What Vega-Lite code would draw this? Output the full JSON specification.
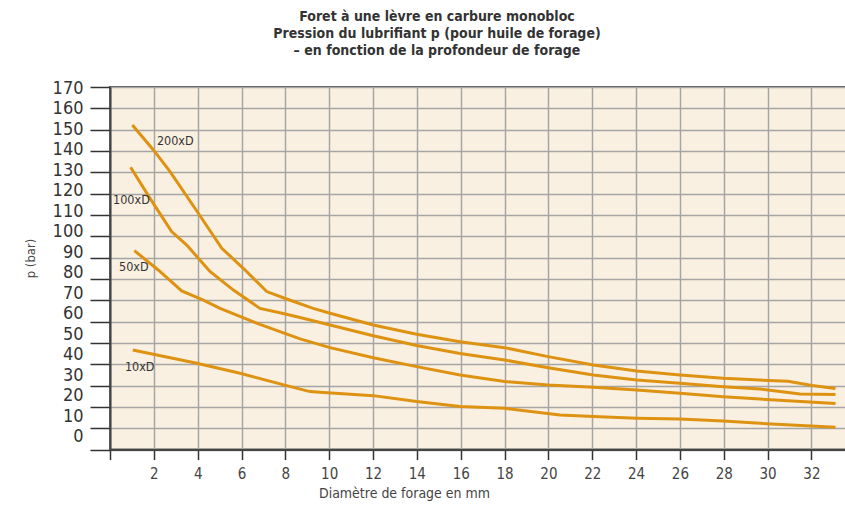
{
  "$schema": "https://vega.github.io/schema/vega-lite/v6.json",
  "width": 740,
  "height": 362.6,
  "padding": {"left": 24, "top": 10, "right": 0, "bottom": 0},
  "background": "#ffffff",
  "config": {
    "font": "Liberation Sans Narrow, DejaVu Sans Condensed, sans-serif",
    "view": {"fill": "#FAF0E1", "stroke": "#555555", "strokeWidth": 2}
  },
  "title": {
    "text": ["Foret à une lèvre en carbure monobloc", "Pression du lubrifiant p (pour huile de forage)", "– en fonction de la profondeur de forage"],
    "fontSize": 14,
    "fontWeight": "bold",
    "color": "#333333",
    "lineHeight": 17,
    "anchor": "middle",
    "dx": -43,
    "offset": 21
  },
  "datasets": {
    "curves": [
      {"serie": "200xD", "d": 1.02, "p": 152.2},
      {"serie": "200xD", "d": 1.98, "p": 140.5},
      {"serie": "200xD", "d": 2.74, "p": 130.3},
      {"serie": "200xD", "d": 4.03, "p": 110.8},
      {"serie": "200xD", "d": 5.10, "p": 94.4},
      {"serie": "200xD", "d": 6.08, "p": 85.0},
      {"serie": "200xD", "d": 7.15, "p": 74.1},
      {"serie": "200xD", "d": 8.06, "p": 70.6},
      {"serie": "200xD", "d": 9.27, "p": 66.2},
      {"serie": "200xD", "d": 10.04, "p": 63.9},
      {"serie": "200xD", "d": 12.01, "p": 58.4},
      {"serie": "200xD", "d": 13.99, "p": 54.1},
      {"serie": "200xD", "d": 15.97, "p": 50.6},
      {"serie": "200xD", "d": 18.0, "p": 47.8},
      {"serie": "200xD", "d": 19.99, "p": 43.6},
      {"serie": "200xD", "d": 22.05, "p": 39.7},
      {"serie": "200xD", "d": 24.03, "p": 36.8},
      {"serie": "200xD", "d": 26.0, "p": 35.0},
      {"serie": "200xD", "d": 27.98, "p": 33.4},
      {"serie": "200xD", "d": 29.65, "p": 32.6},
      {"serie": "200xD", "d": 30.93, "p": 32.0},
      {"serie": "200xD", "d": 32.03, "p": 30.1},
      {"serie": "200xD", "d": 33.1, "p": 28.6},
      {"serie": "100xD", "d": 0.94, "p": 132.4},
      {"serie": "100xD", "d": 1.82, "p": 117.9},
      {"serie": "100xD", "d": 2.81, "p": 102.2},
      {"serie": "100xD", "d": 3.50, "p": 95.9},
      {"serie": "100xD", "d": 4.56, "p": 83.5},
      {"serie": "100xD", "d": 5.63, "p": 74.8},
      {"serie": "100xD", "d": 6.84, "p": 66.2},
      {"serie": "100xD", "d": 7.85, "p": 63.9},
      {"serie": "100xD", "d": 8.67, "p": 61.9},
      {"serie": "100xD", "d": 10.04, "p": 58.4},
      {"serie": "100xD", "d": 12.01, "p": 53.4},
      {"serie": "100xD", "d": 13.99, "p": 48.8},
      {"serie": "100xD", "d": 15.97, "p": 45.1},
      {"serie": "100xD", "d": 18.0, "p": 42.0},
      {"serie": "100xD", "d": 19.99, "p": 38.4},
      {"serie": "100xD", "d": 22.05, "p": 35.0},
      {"serie": "100xD", "d": 24.03, "p": 32.6},
      {"serie": "100xD", "d": 26.0, "p": 31.1},
      {"serie": "100xD", "d": 27.98, "p": 29.5},
      {"serie": "100xD", "d": 29.65, "p": 28.4},
      {"serie": "100xD", "d": 31.48, "p": 26.1},
      {"serie": "100xD", "d": 33.1, "p": 25.8},
      {"serie": "50xD", "d": 1.11, "p": 93.3},
      {"serie": "50xD", "d": 2.20, "p": 84.2},
      {"serie": "50xD", "d": 3.27, "p": 74.4},
      {"serie": "50xD", "d": 4.26, "p": 70.1},
      {"serie": "50xD", "d": 5.02, "p": 66.2},
      {"serie": "50xD", "d": 6.84, "p": 58.7},
      {"serie": "50xD", "d": 8.67, "p": 51.9},
      {"serie": "50xD", "d": 10.04, "p": 47.8},
      {"serie": "50xD", "d": 12.01, "p": 43.1},
      {"serie": "50xD", "d": 13.99, "p": 38.9},
      {"serie": "50xD", "d": 15.97, "p": 35.0},
      {"serie": "50xD", "d": 18.0, "p": 31.9},
      {"serie": "50xD", "d": 19.99, "p": 30.3},
      {"serie": "50xD", "d": 22.05, "p": 29.2},
      {"serie": "50xD", "d": 24.03, "p": 27.9},
      {"serie": "50xD", "d": 26.0, "p": 26.4},
      {"serie": "50xD", "d": 27.98, "p": 24.8},
      {"serie": "50xD", "d": 29.65, "p": 23.7},
      {"serie": "50xD", "d": 33.1, "p": 21.6},
      {"serie": "10xD", "d": 1.04, "p": 46.7},
      {"serie": "10xD", "d": 3.96, "p": 40.5},
      {"serie": "10xD", "d": 5.93, "p": 35.8},
      {"serie": "10xD", "d": 8.06, "p": 30.0},
      {"serie": "10xD", "d": 9.12, "p": 27.2},
      {"serie": "10xD", "d": 9.58, "p": 26.9},
      {"serie": "10xD", "d": 12.01, "p": 25.3},
      {"serie": "10xD", "d": 13.99, "p": 22.5},
      {"serie": "10xD", "d": 15.97, "p": 20.2},
      {"serie": "10xD", "d": 18.0, "p": 19.4},
      {"serie": "10xD", "d": 20.53, "p": 16.2},
      {"serie": "10xD", "d": 22.05, "p": 15.5},
      {"serie": "10xD", "d": 24.03, "p": 14.7},
      {"serie": "10xD", "d": 26.0, "p": 14.3},
      {"serie": "10xD", "d": 27.98, "p": 13.4},
      {"serie": "10xD", "d": 29.65, "p": 12.3},
      {"serie": "10xD", "d": 33.1, "p": 10.5}
    ],
    "labels": [
      {"label": "200xD", "d": 2.14, "p": 144.5},
      {"label": "100xD", "d": 0.14, "p": 116.9},
      {"label": "50xD", "d": 0.41, "p": 85.5},
      {"label": "10xD", "d": 0.68, "p": 38.6}
    ]
  },
  "layer": [
    {
      "data": {"name": "curves"},
      "mark": {"type": "line", "color": "#DE9212", "strokeWidth": 3, "clip": true},
      "encoding": {
        "x": {
          "field": "d", "type": "quantitative",
          "scale": {"domain": [0, 33.76], "nice": false, "zero": false},
          "axis": {
            "values": [0, 2, 4, 6, 8, 10, 12, 14, 16, 18, 20, 22, 24, 26, 28, 30, 32],
            "labelExpr": "datum.value == 0 ? '' : datum.label",
            "grid": true, "gridColor": "#A5A5A5", "gridWidth": 1.5, "gridOpacity": 1,
            "tickSize": 10, "tickColor": "#333333", "tickWidth": 1.5,
            "domainColor": "#444444", "domainWidth": 2,
            "labelFontSize": 15, "labelColor": "#444444", "labelPadding": 7,
            "title": "Diamètre de forage en mm", "titleFontSize": 14, "titleFontWeight": "normal",
            "titleColor": "#444444", "titlePadding": 5, "titleX": 294
          }
        },
        "y": {
          "field": "p", "type": "quantitative",
          "scale": {"domain": [0, 170], "nice": false, "zero": false},
          "axis": {
            "values": [0, 10, 20, 30, 40, 50, 60, 70, 80, 90, 100, 110, 120, 130, 140, 150, 160, 170],
            "labels": false, "title": null,
            "grid": true, "gridColor": "#A5A5A5", "gridWidth": 1.5, "gridOpacity": 1,
            "tickSize": 20, "tickColor": "#333333", "tickWidth": 1.5,
            "domainColor": "#444444", "domainWidth": 2
          }
        },
        "detail": {"field": "serie"}
      }
    },
    {
      "data": {"name": "labels"},
      "mark": {"type": "text", "align": "left", "baseline": "middle", "fontSize": 12.5, "color": "#333333"},
      "encoding": {
        "x": {"field": "d", "type": "quantitative"},
        "y": {"field": "p", "type": "quantitative", "scale": {"domain": [0, 170], "nice": false, "zero": false}, "axis": null},
        "text": {"field": "label"}
      }
    },
    {
      "data": {"name": "curves"},
      "mark": {"type": "point", "opacity": 0},
      "encoding": {
        "x": {"field": "d", "type": "quantitative"},
        "y": {
          "field": "p", "type": "quantitative",
          "scale": {"domain": [-6.3, 170.6], "nice": false, "zero": false},
          "axis": {
            "orient": "left",
            "values": [0, 10, 20, 30, 40, 50, 60, 70, 80, 90, 100, 110, 120, 130, 140, 150, 160, 170],
            "grid": false, "ticks": false, "domain": false,
            "labelFontSize": 18, "labelColor": "#333333", "labelPadding": 27,
            "title": "p (bar)", "titleFontSize": 13, "titleFontWeight": "normal",
            "titleColor": "#444444", "titlePadding": 15, "titleY": 171
          }
        }
      }
    }
  ],
  "resolve": {"scale": {"y": "independent"}, "axis": {"y": "independent"}}
}
